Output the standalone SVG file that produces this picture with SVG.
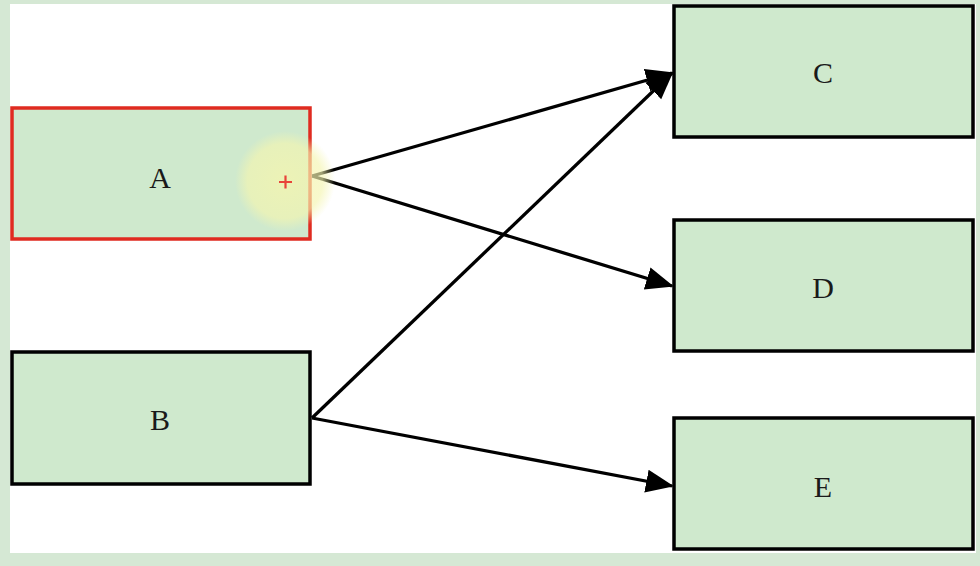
<svg xmlns="http://www.w3.org/2000/svg" width="980" height="566" viewBox="0 0 980 566">
<defs>
<style>
.node{fill:#cfe9cd;stroke:#000;stroke-width:3.5}
.lbl{font-family:"Liberation Serif",serif;font-size:30px;fill:#1a1a1a;text-anchor:middle;dominant-baseline:central}
.edge{fill:none;stroke:#000;stroke-width:3.3}
</style>
<marker id="ah" markerUnits="userSpaceOnUse" markerWidth="30" markerHeight="26" refX="26" refY="13" orient="auto" viewBox="0 0 30 26">
<path d="M0,1.5 L28,13 L0,24.5 Z" fill="#000"/>
</marker>
<radialGradient id="glow">
<stop offset="0" stop-color="#f4f5b0" stop-opacity="0.8"/>
<stop offset="0.75" stop-color="#f4f5b0" stop-opacity="0.65"/>
<stop offset="1" stop-color="#f4f5b0" stop-opacity="0"/>
</radialGradient>
</defs>
<rect x="0" y="0" width="980" height="566" fill="#d5e8d4"/>
<rect x="10" y="4" width="966" height="549" fill="#fff"/>
<g id="connectors">
<line class="edge" x1="312" y1="176" x2="672" y2="73" marker-end="url(#ah)"/>
<line class="edge" x1="312" y1="176" x2="672" y2="286" marker-end="url(#ah)"/>
<line class="edge" x1="312" y1="418" x2="672" y2="73" marker-end="url(#ah)"/>
<line class="edge" x1="312" y1="418" x2="672" y2="486" marker-end="url(#ah)"/>
</g>
<g id="A">
<rect class="node" x="12" y="108" width="298" height="131" style="stroke:#e02b20"/>
<text class="lbl" x="160" y="177">A</text>
</g>
<g id="B">
<rect class="node" x="12" y="352" width="298" height="132"/>
<text class="lbl" x="160" y="419">B</text>
</g>
<g id="C">
<rect class="node" x="674" y="6" width="299" height="131"/>
<text class="lbl" x="823" y="72">C</text>
</g>
<g id="D">
<rect class="node" x="674" y="220" width="299" height="131"/>
<text class="lbl" x="823" y="287">D</text>
</g>
<g id="E">
<rect class="node" x="674" y="418" width="299" height="131"/>
<text class="lbl" x="823" y="486">E</text>
</g>
<g id="cursor">
<circle cx="285" cy="181" r="50" fill="url(#glow)"/>
<path d="M279,182 H292 M285.5,175.5 V188.5" stroke="#e8443a" stroke-width="2.2"/>
</g>
</svg>
